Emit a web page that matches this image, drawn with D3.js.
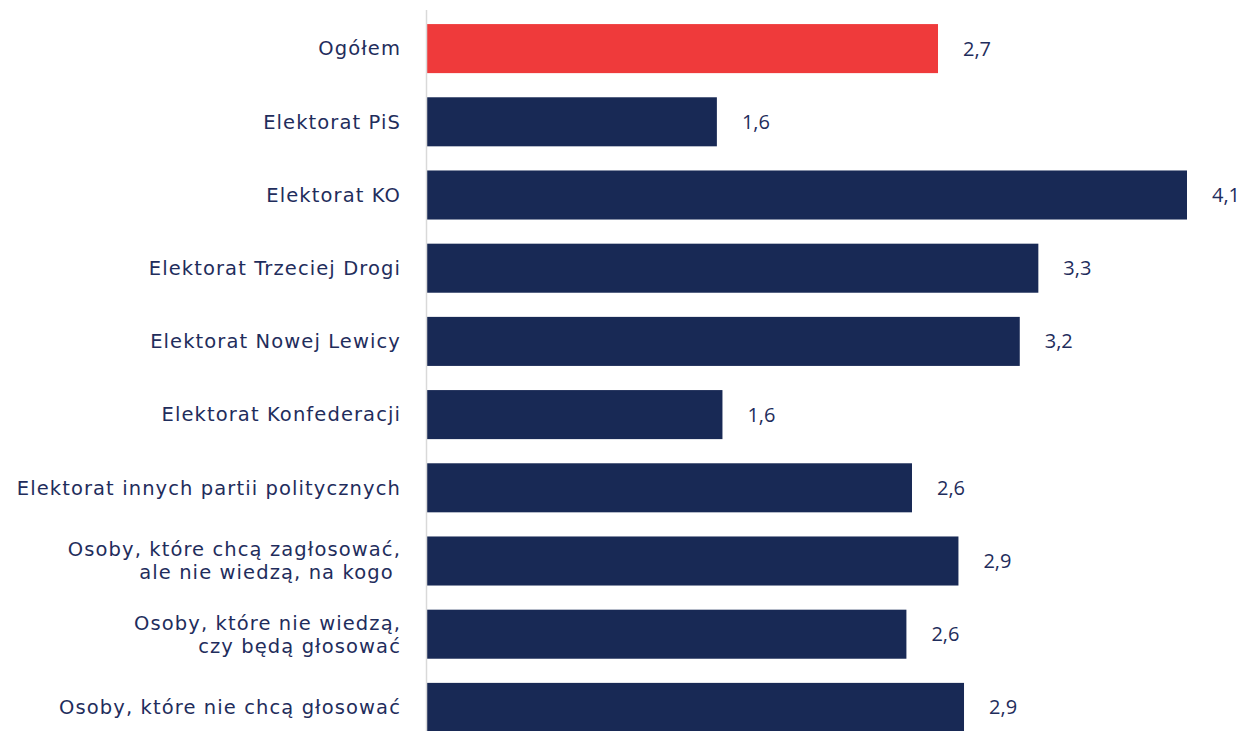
<!DOCTYPE html>
<html>
<head>
<meta charset="utf-8">
<script src="https://cdn.jsdelivr.net/npm/d3@7"></script>
<style>
  body { margin: 0; background: #fff; }
  svg { display: block; font-family: "DejaVu Sans", sans-serif; }
</style>
</head>
<body>
<div id="chart"></div>
<script>
"use strict";

var categories = [
  ["Ogółem"],
  ["Elektorat PiS"],
  ["Elektorat KO"],
  ["Elektorat Trzeciej Drogi"],
  ["Elektorat Nowej Lewicy"],
  ["Elektorat Konfederacji"],
  ["Elektorat innych partii politycznych"],
  ["Osoby, które chcą zagłosować,", "ale nie wiedzą, na kogo "],
  ["Osoby, które nie wiedzą,", "czy będą głosować"],
  ["Osoby, które nie chcą głosować"]
];
var values = [2.75, 1.56, 4.09, 3.29, 3.19, 1.59, 2.61, 2.86, 2.58, 2.89];
var valueLabels = ["2,7", "1,6", "4,1", "3,3", "3,2", "1,6", "2,6", "2,9", "2,6", "2,9"];
var highlight = [true, false, false, false, false, false, false, false, false, false];

var width = 1242, height = 731;
var margin = {left: 427, right: 55};

var svg = d3.select("#chart")
            .append("svg")
            .attr("width", width)
            .attr("height", height);

var x = d3.scaleLinear()
          .domain([0, 4.09])
          .range([margin.left, width - margin.right]);

var y = d3.scaleBand()
          .domain(d3.range(categories.length))
          .range([12, 744])
          .paddingInner(0.33)
          .paddingOuter(0.165);

// bars
svg.selectAll("rect.bar")
   .data(values)
   .enter()
   .append("rect")
   .attr("class", "bar")
   .attr("x", x(0))
   .attr("y", function(d, i) { return y(i); })
   .attr("width", function(d) { return x(d) - x(0); })
   .attr("height", y.bandwidth())
   .attr("fill", function(d, i) { return highlight[i] ? "#ef3a3b" : "#182955"; });

// baseline
svg.append("line")
   .attr("x1", x(0) - 0.5).attr("x2", x(0) - 0.5)
   .attr("y1", 10).attr("y2", height)
   .attr("stroke", "#d9d9d9")
   .attr("stroke-width", 1.5);

// value labels
svg.selectAll("text.val")
   .data(values)
   .enter()
   .append("text")
   .attr("class", "val")
   .attr("x", function(d) { return x(d) + 25; })
   .attr("y", function(d, i) { return y(i) + y.bandwidth() / 2; })
   .attr("dy", "0.35em")
   .attr("font-family", "'Open Sans', sans-serif")
   .attr("font-size", 20)
   .attr("fill", "#1f2d5c")
   .text(function(d, i) { return valueLabels[i]; });

// category labels, one text per line
var lines = [];
categories.forEach(function(c, i) {
  c.forEach(function(t, j) {
    lines.push({t: t, i: i, off: (j - (c.length - 1) / 2) * 23});
  });
});

svg.selectAll("text.cat")
   .data(lines)
   .enter()
   .append("text")
   .attr("class", "cat")
   .attr("text-anchor", "end")
   .attr("font-size", 19.5)
   .attr("letter-spacing", 1.1)
   .attr("fill", "#1f2d5c")
   .attr("x", 401)
   .attr("y", function(d) { return y(d.i) + y.bandwidth() / 2 + d.off; })
   .attr("dy", "0.35em")
   .style("white-space", "pre")
   .text(function(d) { return d.t; });
</script>
</body>
</html>
